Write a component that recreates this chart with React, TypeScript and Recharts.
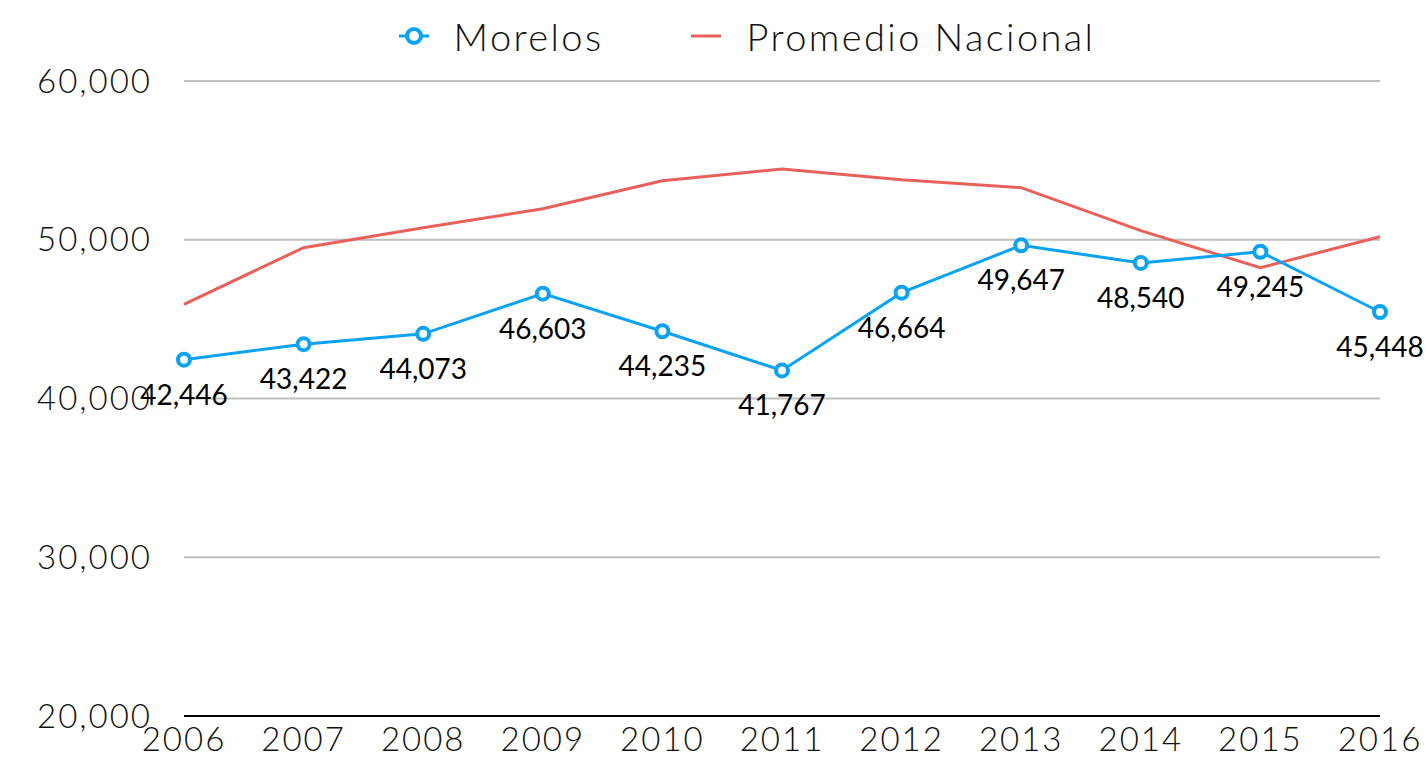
import React from "react";
import { CartesianGrid, LabelList, Line, LineChart, XAxis, YAxis } from "recharts";

const years = ["2006", "2007", "2008", "2009", "2010", "2011", "2012", "2013", "2014", "2015", "2016"];
const morelos = [42446, 43422, 44073, 46603, 44235, 41767, 46664, 49647, 48540, 49245, 45448];
const promedioNacional = [45930, 49500, 50750, 51950, 53720, 54460, 53780, 53280, 50570, 48240, 50190];
const yTicks = [20000, 30000, 40000, 50000, 60000];

const data = years.map((year, i) => ({
  year,
  morelos: morelos[i],
  promedio: promedioNacional[i],
}));

const BLUE = "#0aa2f2";
const RED = "#e8605a";
const AXIS_FONT = "Lato, 'Noto Sans', sans-serif";

const fmt = (v: number) => v.toLocaleString("en-US");

const tickStyle = {
  fontFamily: AXIS_FONT,
  fontWeight: 300,
  fontSize: 33,
  fill: "#111",
  letterSpacing: 2,
};

function ValueLabel(props: any) {
  const { x, y, value } = props;
  return (
    <text
      x={x}
      y={y + 34}
      textAnchor="middle"
      dominantBaseline="central"
      fontFamily="Lato, sans-serif"
      fontSize={28}
      fill="#000"
    >
      {fmt(value)}
    </text>
  );
}

function TopLegend() {
  return (
    <div
      style={{
        position: "absolute",
        top: 13,
        left: 0,
        width: 1426,
        display: "flex",
        justifyContent: "center",
        alignItems: "center",
        fontFamily: AXIS_FONT,
        fontWeight: 300,
        fontSize: 38,
        letterSpacing: 2.4,
        color: "#111",
        paddingLeft: 68,
        boxSizing: "border-box",
      }}
    >
      <svg width={30} height={20} style={{ marginRight: 25 }}>
        <line x1={0} y1={10} x2={30} y2={10} stroke={BLUE} strokeWidth={3} />
        <circle cx={15} cy={10} r={7} fill="#fff" stroke={BLUE} strokeWidth={4} />
      </svg>
      <span style={{ marginRight: 88 }}>Morelos</span>
      <svg width={30} height={20} style={{ marginRight: 25 }}>
        <line x1={0} y1={10} x2={30} y2={10} stroke={RED} strokeWidth={3} />
      </svg>
      <span>Promedio Nacional</span>
    </div>
  );
}

export default function App() {
  return (
    <div style={{ position: "absolute", left: 0, top: 0, width: 1426, height: 758, background: "#fff" }}>
      <TopLegend />
      <LineChart width={1426} height={758} data={data} margin={{ top: 81, right: 46, left: 0, bottom: 0 }}>
        <CartesianGrid vertical={false} stroke="#bfbfbf" strokeWidth={2} />
        <XAxis
          dataKey="year"
          scale="point"
          padding={{ left: 0, right: 0 }}
          height={42}
          axisLine={{ stroke: "#000", strokeWidth: 2 }}
          tickLine={false}
          tickSize={0}
          tickMargin={12}
          tick={tickStyle}
        />
        <YAxis
          domain={[20000, 60000]}
          ticks={yTicks}
          width={184}
          axisLine={false}
          tickLine={false}
          tickSize={0}
          tickMargin={32}
          tickFormatter={fmt}
          tick={tickStyle}
        />
        <Line
          dataKey="promedio"
          stroke={RED}
          strokeWidth={3}
          dot={false}
          activeDot={false}
          isAnimationActive={false}
        />
        <Line
          dataKey="morelos"
          stroke={BLUE}
          strokeWidth={3}
          dot={{ r: 6, fill: "#fff", stroke: BLUE, strokeWidth: 4 }}
          activeDot={false}
          isAnimationActive={false}
        >
          <LabelList dataKey="morelos" content={ValueLabel} />
        </Line>
      </LineChart>
    </div>
  );
}
